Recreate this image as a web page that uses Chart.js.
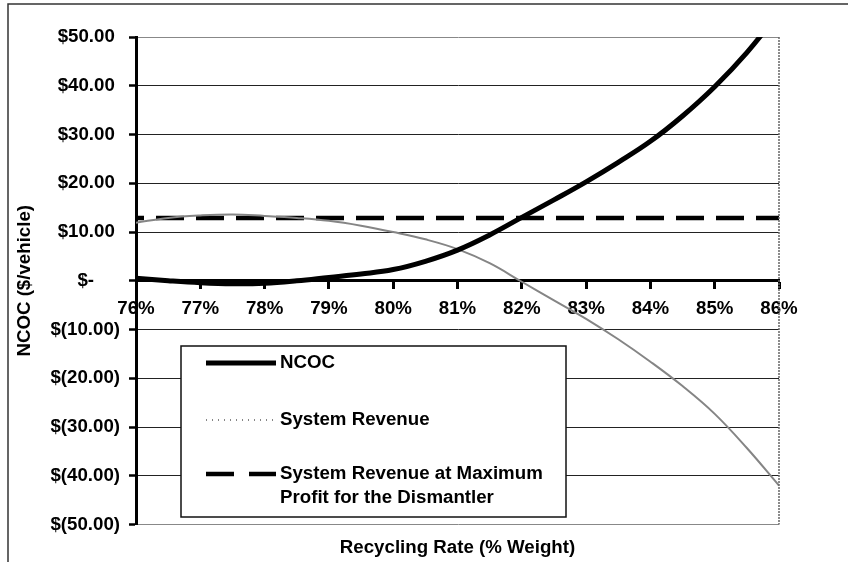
<!DOCTYPE html>
<html>
<head>
<meta charset="utf-8">
<script src="https://cdn.jsdelivr.net/npm/chart.js@4.4.1/dist/chart.umd.min.js"></script>
<style>
  html, body { margin: 0; padding: 0; background: #fff; }
  #wrap { position: relative; width: 848px; height: 562px; }
</style>
</head>
<body>
<div id="wrap"><canvas id="ncoc-chart" width="848" height="562"></canvas></div>
<script>
  // recycling rate (% weight)
  var rates = [76, 76.5, 77, 77.5, 78, 78.5, 79, 79.5, 80, 80.5, 81, 81.5, 82, 82.5, 83, 83.5, 84, 84.5, 85, 85.5, 86];
  // net cost of compliance, $/vehicle
  var ncoc = [0.5, 0, -0.4, -0.6, -0.5, 0, 0.7, 1.4, 2.3, 4.0, 6.3, 9.4, 13.0, 16.6, 20.3, 24.3, 28.6, 33.8, 39.8, 46.8, 55];
  // system revenue, $/vehicle
  var revenue = [11.9, 12.9, 13.4, 13.6, 13.3, 12.9, 12.3, 11.3, 10, 8.5, 6.5, 3.6, -0.2, -4.0, -7.8, -12, -16.6, -21.6, -27.3, -34.3, -42];
  // system revenue at maximum profit for the dismantler
  var maxProfitRevenue = [12.9, 12.9, 12.9, 12.9, 12.9, 12.9, 12.9, 12.9, 12.9, 12.9, 12.9, 12.9, 12.9, 12.9, 12.9, 12.9, 12.9, 12.9, 12.9, 12.9, 12.9];

  var seriesNames = ['NCOC', 'System Revenue', 'System Revenue at Maximum\nProfit for the Dismantler'];
  var yTicks = [-50, -40, -30, -20, -10, 0, 10, 20, 30, 40, 50];

  var FONT = '"Liberation Sans", Arial, Helvetica, sans-serif';
  var FS = 18.7;

  function pts(arr) {
    return arr.map(function (v, i) { return { x: rates[i], y: v }; });
  }

  function money(v) {
    if (v === 0) return '$-     ';
    var s = Math.abs(v).toFixed(2);
    return v < 0 ? '$(' + s + ')' : '$' + s + ' ';
  }

  // frame, right edge of the plot, and the boxed legend
  var extras = {
    id: 'extras',
    beforeDraw: function (chart) {
      var ctx = chart.ctx;
      ctx.save();
      ctx.strokeStyle = '#333';
      ctx.lineWidth = 1.5;
      ctx.beginPath();
      ctx.moveTo(8, 562);
      ctx.lineTo(8, 4);
      ctx.lineTo(848, 4);
      ctx.stroke();
      ctx.restore();
    },
    afterDraw: function (chart) {
      var ctx = chart.ctx;
      var a = chart.chartArea;
      ctx.save();
      ctx.strokeStyle = '#666';
      ctx.lineWidth = 1.5;
      ctx.setLineDash([2, 1]);
      ctx.beginPath();
      ctx.moveTo(a.right, a.top);
      ctx.lineTo(a.right, a.bottom);
      ctx.stroke();
      ctx.setLineDash([]);

      // legend box
      ctx.fillStyle = '#fff';
      ctx.fillRect(181, 346, 385, 171);
      ctx.strokeStyle = '#111';
      ctx.lineWidth = 1.5;
      ctx.strokeRect(181, 346, 385, 171);

      var rows = [363, 420, 474];
      var ds = chart.data.datasets;
      ds.forEach(function (d, i) {
        ctx.strokeStyle = d.borderColor;
        ctx.lineWidth = d.borderWidth;
        ctx.setLineDash(i === 2 ? [28, 15] : (i === 1 ? [1, 5] : []));
        ctx.beginPath();
        ctx.moveTo(206, rows[i]);
        ctx.lineTo(276, rows[i]);
        ctx.stroke();
        ctx.setLineDash([]);
        ctx.fillStyle = '#000';
        ctx.font = 'bold ' + FS + 'px ' + FONT;
        ctx.textBaseline = 'middle';
        ctx.textAlign = 'left';
        d.label.split('\n').forEach(function (line, j) {
          ctx.fillText(line, 280, rows[i] + j * 24);
        });
      });
      ctx.restore();
    }
  };

  var ctx = document.getElementById('ncoc-chart').getContext('2d');
  window.ncocChart = new Chart(ctx, {
    type: 'line',
    data: {
      datasets: [
        {
          label: seriesNames[0],
          data: pts(ncoc),
          borderColor: '#000',
          borderWidth: 5,
          pointRadius: 0,
          tension: 0.4,
          order: 0
        },
        {
          label: seriesNames[1],
          data: pts(revenue),
          borderColor: '#858585',
          borderWidth: 2,
          pointRadius: 0,
          tension: 0.4,
          order: 1
        },
        {
          label: seriesNames[2],
          data: pts(maxProfitRevenue),
          borderColor: '#000',
          borderWidth: 4.5,
          borderDash: [28, 12],
          borderDashOffset: 20,
          pointRadius: 0,
          order: 2
        }
      ]
    },
    options: {
      responsive: false,
      animation: false,
      layout: { padding: { top: 37, right: 69, left: 0, bottom: 1 } },
      plugins: {
        legend: { display: false },
        tooltip: { enabled: false },
        title: {
          display: true,
          position: 'bottom',
          fullSize: false,
          text: 'Recycling Rate (% Weight)',
          color: '#000',
          font: { family: FONT, size: FS, weight: 'bold' },
          padding: { top: 12, bottom: 2 }
        }
      },
      scales: {
        x: {
          type: 'linear',
          position: { y: 0 },
          min: 76,
          max: 86,
          ticks: {
            stepSize: 1,
            color: '#000',
            padding: 10,
            font: { family: FONT, size: FS, weight: 'bold' },
            callback: function (v) { return v + '%'; }
          },
          grid: { drawOnChartArea: false, drawTicks: true, tickLength: 7, tickColor: '#000', tickWidth: 3 },
          border: { display: true, color: '#000', width: 3 }
        },
        y: {
          min: -50,
          max: 50,
          afterBuildTicks: function (scale) {
            scale.ticks = yTicks.map(function (v) { return { value: v }; });
          },
          afterFit: function (scale) { scale.width = 136; },
          ticks: {
            color: '#000',
            padding: 9,
            font: { family: FONT, size: FS, weight: 'bold' },
            callback: function (v) { return money(v); }
          },
          grid: {
            color: function (c) { return Math.abs(c.tick.value) === 50 ? '#888' : '#222'; },
            lineWidth: 1,
            tickLength: 7,
            tickColor: '#000',
            tickWidth: 2.5
          },
          border: { display: true, color: '#000', width: 3 },
          title: {
            display: true,
            text: 'NCOC ($/vehicle)',
            color: '#000',
            font: { family: FONT, size: FS, weight: 'bold' },
            padding: { top: 14, bottom: 0 }
          }
        }
      }
    },
    plugins: [extras]
  });
</script>
</body>
</html>
